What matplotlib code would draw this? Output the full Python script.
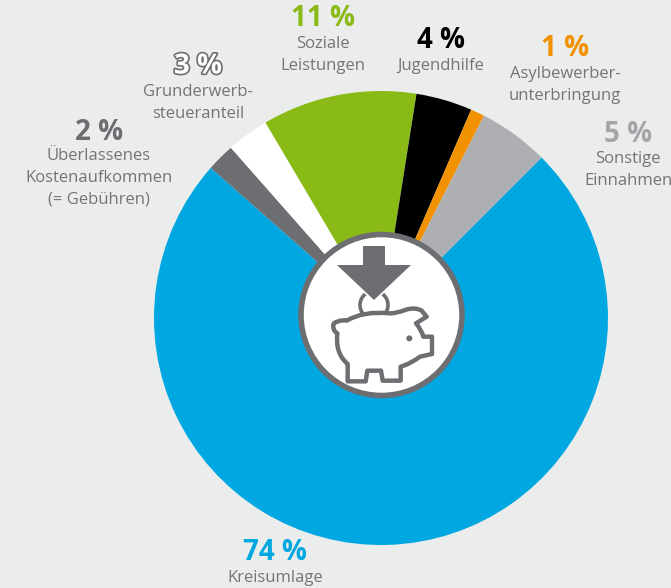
import matplotlib
matplotlib.use("Agg")
from matplotlib import pyplot as plt
from matplotlib.patches import Circle, PathPatch, Polygon
from matplotlib.path import Path
import matplotlib.patheffects as pe

plt.rcParams["font.family"] = ["Open Sans", "DejaVu Sans"]

# Werte, im Uhrzeigersinn ab 45 Grad
categories = ["Kreisumlage", "Überlassenes\nKostenaufkommen\n(= Gebühren)", "Grunderwerb-\nsteueranteil",
              "Soziale\nLeistungen", "Jugendhilfe", "Asylbewerber-\nunterbringung", "Sonstige\nEinnahmen"]
values = [74, 2, 3, 11, 4, 1, 5]
colors = ["#00a7e0", "#6d6e72", "#ffffff", "#8aba15", "#000000", "#f39200", "#aeafb2"]
value_colors = ["#00a7e0", "#6d6e72", "#ffffff", "#8aba15", "#000000", "#f39200", "#a4a5a8"]

# Lage der Beschriftung in Bildpixeln: Mitte x, Mitte Prozentwert y, Mitte erste Textzeile y
label_pos = [(275, 553, 578), (99, 132, 156), (198, 66, 92), (323, 19, 44),
             (441, 41, 66), (565, 49, 74), (628, 134, 159)]

BG = "#ebeded"
ICON = "#6d6e72"
TEXT = "#737478"
W, H = 671, 588

fig = plt.figure(figsize=(W / 100, H / 100), dpi=100, facecolor=BG)
ax = fig.add_axes([0, 0, 1, 1])


def yy(y):
    return H - y


ax.pie(values, colors=colors, startangle=45, counterclock=False, center=(381, yy(318)), radius=227,
       wedgeprops={"linewidth": 0})
ax.set_xlim(0, W)
ax.set_ylim(0, H)
ax.set_aspect("equal")
ax.axis("off")

# Sparschwein in der Mitte
ax.add_patch(Circle((381.5, yy(315)), 80.5, facecolor="white", edgecolor=ICON, linewidth=4, zorder=5))
ax.add_patch(Circle((374, yy(305)), 14, facecolor="white", edgecolor=ICON, linewidth=2.6, zorder=6))

arrow = [(363, 246), (385, 246), (385, 265), (411, 265), (374, 300), (337, 265), (363, 265)]
arrow_patch = Polygon([(x, yy(y)) for x, y in arrow], closed=True, facecolor=ICON, edgecolor="none", zorder=7)
arrow_patch.set_path_effects([pe.Stroke(linewidth=2.5, foreground="white"), pe.Normal()])
ax.add_patch(arrow_patch)


def z(x, y):
    # Koordinaten aus dem 3x-Ausschnitt umrechnen
    return (280 + x / 3, yy(220 + y / 3))


pig_pts = [
    (Path.MOVETO, (172, 305)), (Path.CURVE3, (190, 298)), (Path.CURVE3, (200, 302)),
    (Path.CURVE3, (250, 272)), (Path.CURVE3, (330, 280)), (Path.CURVE3, (350, 280)),
    (Path.CURVE3, (375, 270)), (Path.CURVE3, (405, 260)), (Path.CURVE3, (425, 272)),
    (Path.LINETO, (440, 290)), (Path.LINETO, (408, 310)), (Path.CURVE3, (425, 330)),
    (Path.CURVE3, (430, 350)), (Path.LINETO, (456, 350)), (Path.LINETO, (456, 402)),
    (Path.LINETO, (420, 410)), (Path.CURVE3, (390, 432)), (Path.CURVE3, (362, 440)),
    (Path.LINETO, (362, 482)), (Path.LINETO, (308, 482)), (Path.LINETO, (303, 452)),
    (Path.LINETO, (262, 452)), (Path.LINETO, (257, 484)), (Path.LINETO, (203, 484)),
    (Path.LINETO, (203, 432)), (Path.CURVE3, (165, 400)), (Path.CURVE3, (172, 340)),
    (Path.CURVE3, (158, 332)), (Path.CURVE3, (160, 315)), (Path.CURVE3, (160, 308)),
    (Path.CURVE3, (172, 305)), (Path.CLOSEPOLY, (172, 305)),
]
pig = Path([z(*p) for _, p in pig_pts], [c for c, _ in pig_pts])
ax.add_patch(PathPatch(pig, facecolor="white", edgecolor=ICON, linewidth=3.2, joinstyle="round", zorder=8))
ax.add_patch(Circle(z(388, 355), 3, facecolor=ICON, edgecolor="none", zorder=9))

# Beschriftung
for cat, val, col, (x, y_val, y_txt) in zip(categories, values, value_colors, label_pos):
    t = ax.text(x, yy(y_val), f"{val} %", color=col, fontsize=20, fontweight="bold", ha="center",
                va="center", zorder=10)
    if col == "#ffffff":
        t.set_path_effects([pe.Stroke(linewidth=2.4, foreground=ICON), pe.Normal()])
    for i, line in enumerate(cat.split("\n")):
        ax.text(x, yy(y_txt + i * 21.7), line, color=TEXT, fontsize=12, ha="center", va="center", zorder=10)

fig.savefig("out.png", dpi=100, facecolor=BG)
